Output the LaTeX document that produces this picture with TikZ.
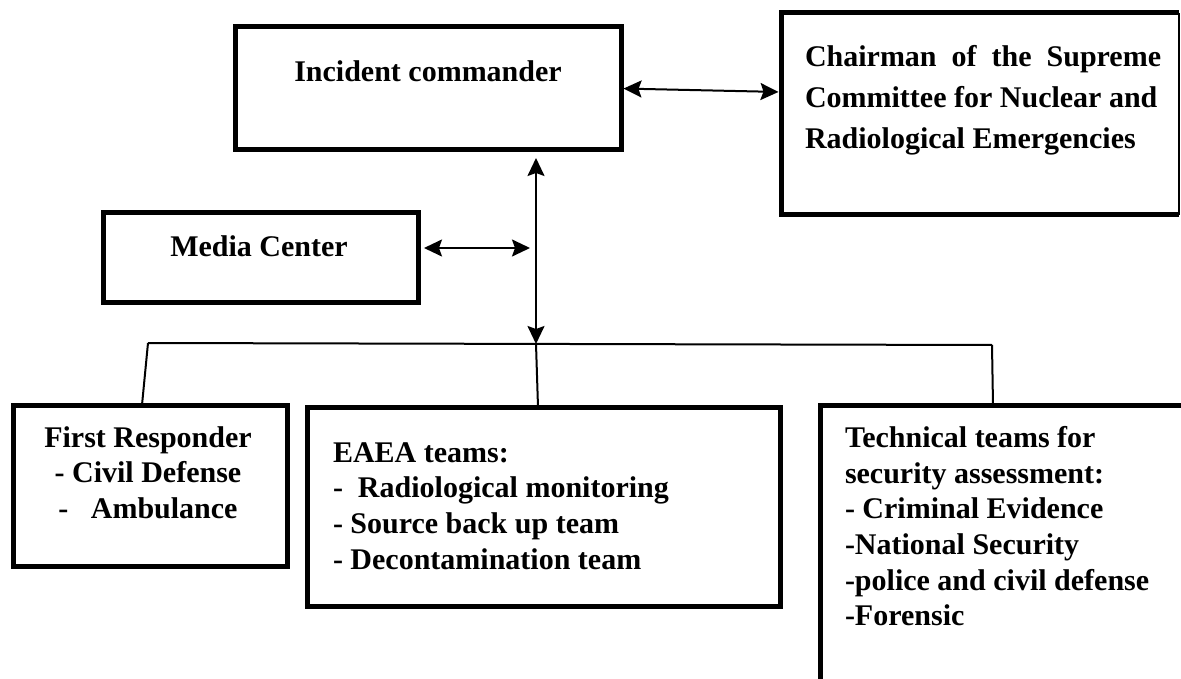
\documentclass[tikz,border=0pt]{standalone}
\usepackage{fontspec}
\setmainfont{Liberation Serif}
\usetikzlibrary{arrows.meta}
\begin{document}
\begin{tikzpicture}[x=1pt,y=-1pt,
  box/.style={draw, line width=5pt, inner sep=0pt, outer sep=0pt, anchor=north west},
  conn/.style={line width=2pt},
  tipx/.style={},
  biarrow/.style={conn, {Stealth[length=18pt,width=17pt,inset=3pt]}-{Stealth[length=18pt,width=17pt,inset=3pt]}},
  txt/.style={font=\fontsize{30}{35.6}\selectfont\bfseries, inner sep=0pt, outer sep=0pt}]
\fill[white] (0,0) rectangle (1181,679);
\useasboundingbox (0,0) rectangle (1181,679);

% boxes
\node[box, minimum width=386pt, minimum height=123pt] (ic) at (235,27) {};
\node[box, draw=none, minimum width=398pt, minimum height=202pt] (ch) at (781,13) {};
\draw[line width=5pt] (ch.north east) -- (ch.north west) -- (ch.south west) -- (ch.south east);
\draw[line width=1.5pt] (ch.north east) -- (ch.south east);
\node[box, minimum width=315pt, minimum height=89pt] (mc) at (103,213) {};
\node[box, minimum width=274pt, minimum height=161pt] (fr) at (13,405) {};
\node[box, minimum width=473pt, minimum height=199pt] (ea) at (307,407) {};
\node[box, minimum width=500pt, minimum height=400pt] (tt) at (820,405) {};

% texts
\node[txt, anchor=base] (ict) at (428,82) {Incident commander};
\node[txt, anchor=north west, align=left, font=\fontsize{30}{41}\selectfont\bfseries] (cht) at (805,45.5)
  {Chairman\ \ of\ \ the\ \ Supreme\\Committee for Nuclear and\\Radiological Emergencies};
\node[txt, anchor=base] (mct) at (259,257) {Media Center};
\node[txt, anchor=north, align=center] (frt) at (148,426.5)
  {First Responder\\- Civil Defense\\-\ \ \ Ambulance};
\node[txt, anchor=north west, align=left] (eat) at (333,442.5)
  {EAEA teams:\\-\ \ Radiological monitoring\\- Source back up team\\- Decontamination team};
\node[txt, anchor=north west, align=left] (ttt) at (845,426.5)
  {Technical teams for\\security assessment:\\- Criminal Evidence\\-National Security\\-police and civil defense\\-Forensic};

% connectors
\coordinate (hub) at (536,344);
\coordinate (busL) at (148,343);
\coordinate (busR) at (992,345);
\coordinate (ma) at ([yshift=9.5pt]mc.east);
\draw[biarrow, shorten <=2.5pt, shorten >=2.5pt] (ic.east) -- ([yshift=22pt]ch.west);
\draw[biarrow, shorten <=8pt] (hub |- ic.south) -- (hub);
\draw[biarrow, shorten <=6pt, shorten >=6pt] (ma) -- (hub |- ma);
\draw[conn] (busL) -- (busR);
\draw[conn] (busL) -- ([xshift=-8pt]fr.north);
\draw[conn] (hub) -- ([xshift=-5.5pt]ea.north);
\draw[conn] (busR) -- ([xshift=173pt]tt.north west);
\end{tikzpicture}
\end{document}
